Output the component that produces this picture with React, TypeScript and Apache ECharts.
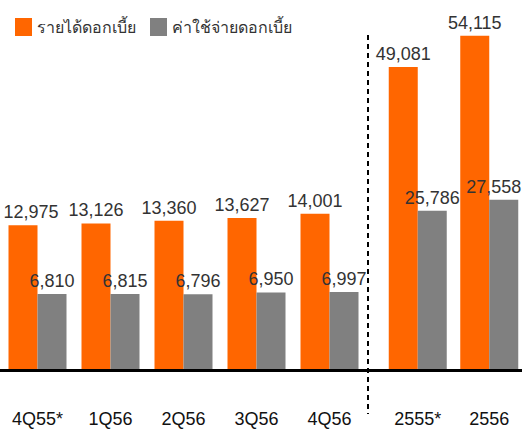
import React, { useEffect, useRef } from "react";
import * as echarts from "echarts";

const quarterCategories = ["4Q55*", "1Q56", "2Q56", "3Q56", "4Q56"];
const yearCategories = ["2555*", "2556"];
const seriesNames = ["รายได้ดอกเบี้ย", "ค่าใช้จ่ายดอกเบี้ย"];
const quarterIncome = [12975, 13126, 13360, 13627, 14001];
const quarterExpense = [6810, 6815, 6796, 6950, 6997];
const yearIncome = [49081, 54115];
const yearExpense = [25786, 27558];

const ORANGE = "#FF6600";
const GRAY = "#808080";
const FONT = "Arial, 'Liberation Sans', sans-serif";

export default function App() {
  const ref = useRef<HTMLDivElement>(null);
  useEffect(() => {
    if (!ref.current) return;
    document.body.style.margin = "0";
    const chart = echarts.init(ref.current, undefined, { renderer: "svg" });
    const label = {
      show: true,
      position: "top",
      distance: 4,
      fontSize: 18,
      color: "#333",
      fontFamily: FONT,
      formatter: (p: any) => Number(p.value).toLocaleString("en-US"),
    };
    const withOffset = (arr: number[], idx: number, dx: number) =>
      arr.map((v, i) => (i === idx ? { value: v, label: { offset: [dx, 0] } } : v));
    const xAxisCommon = {
      type: "category",
      axisLine: { show: false },
      axisTick: { show: false },
      axisLabel: { fontSize: 18, color: "#111", fontFamily: FONT, margin: 40 },
    };
    const yAxisCommon = { type: "value", min: 0, show: false, splitLine: { show: false } };
    chart.setOption({
      animation: false,
      textStyle: { fontFamily: FONT },
      legend: {
        data: seriesNames,
        left: 10,
        top: 13,
        itemWidth: 17,
        itemHeight: 18,
        itemGap: 14,
        icon: "rect",
        textStyle: { fontSize: 16, color: "#333", fontFamily: FONT },
      },
      grid: [
        { left: 1, top: 10, width: 365, height: 360 },
        { left: 382, top: 10, width: 148, height: 360 },
      ],
      xAxis: [
        { ...xAxisCommon, gridIndex: 0, data: quarterCategories },
        { ...xAxisCommon, gridIndex: 1, data: yearCategories },
      ],
      yAxis: [
        { ...yAxisCommon, gridIndex: 0, max: 32250 },
        { ...yAxisCommon, gridIndex: 1, max: 58300 },
      ],
      series: [
        {
          name: seriesNames[0], type: "bar", xAxisIndex: 0, yAxisIndex: 0,
          barWidth: 29, barGap: "0%", itemStyle: { color: ORANGE }, label,
          data: withOffset(quarterIncome, 0, 8),
        },
        {
          name: seriesNames[1], type: "bar", xAxisIndex: 0, yAxisIndex: 0,
          barWidth: 29, barGap: "0%", itemStyle: { color: GRAY }, label,
          data: quarterExpense,
        },
        {
          name: seriesNames[0], type: "bar", xAxisIndex: 1, yAxisIndex: 1,
          barWidth: 29, barGap: "0%", itemStyle: { color: ORANGE }, label,
          data: yearIncome,
        },
        {
          name: seriesNames[1], type: "bar", xAxisIndex: 1, yAxisIndex: 1,
          barWidth: 29, barGap: "0%", itemStyle: { color: GRAY }, label,
          data: withOffset(yearExpense, 1, -10),
        },
      ],
      graphic: [
        {
          type: "line", z: 100,
          shape: { x1: 0, y1: 370.5, x2: 522, y2: 370.5 },
          style: { stroke: "#000", lineWidth: 3 },
        },
        {
          type: "line", z: 100,
          shape: { x1: 368, y1: 35, x2: 368, y2: 414 },
          style: { stroke: "#000", lineWidth: 2, lineDash: [5, 4] },
        },
      ],
    });
    return () => chart.dispose();
  }, []);
  return <div ref={ref} style={{ width: 525, height: 430 }} />;
}
